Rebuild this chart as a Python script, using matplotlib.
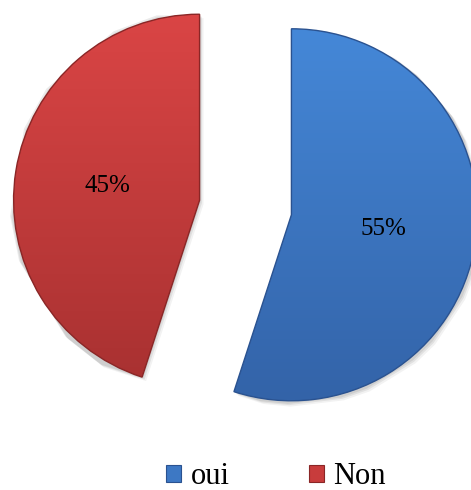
import numpy as np
import matplotlib.pyplot as plt
from matplotlib.colors import LinearSegmentedColormap

labels = ['oui', 'Non']
shares = [55, 45]
tops = ['#4588d8', '#da4545']
bottoms = ['#3363a8', '#a83131']
edges = ['#2a5290', '#8a2626']

plt.rcParams['font.family'] = ['Liberation Serif', 'DejaVu Serif']

fig = plt.figure(figsize=(4.71, 4.90), dpi=100)
ax = fig.add_axes([0, 0, 1, 1])

cx, cy, r = 245.5, 282.5, 186
# pie takes explode in data units, so scale by radius
wedges, texts, pcts = ax.pie(
    shares, explode=[0.25 * r, 0.25 * r], center=(cx, cy), radius=r,
    startangle=90, counterclock=False, colors=tops,
    autopct='%1.0f%%', pctdistance=0.5,
    textprops=dict(fontsize=18, color='black'),
    wedgeprops=dict(edgecolor='none'))

# soft drop shadow under each slice
for w in wedges:
    for k, a in ((4, 0.05), (2.5, 0.07), (1.2, 0.08)):
        sh = plt.Polygon(w.get_path().vertices + np.array([k, -k]),
                         closed=True, fc='black', ec='none', alpha=a, zorder=0)
        ax.add_patch(sh)

# vertical gradient fill clipped to each wedge
for w, top, bot, ec in zip(wedges, tops, bottoms, edges):
    cmap = LinearSegmentedColormap.from_list('g', [bot, top])
    grad = np.linspace(0, 1, 256).reshape(-1, 1)
    x0, y0 = w.center
    im = ax.imshow(grad, cmap=cmap, origin='lower', aspect='auto',
                   extent=(x0 - r, x0 + r, y0 - r, y0 + r), zorder=1)
    im.set_clip_path(w)
    w.set_zorder(2)
    w.set_facecolor('none')
    w.set_edgecolor(ec)
    w.set_linewidth(1.0)

for t in pcts:
    t.set_zorder(3)

ax.set_xlim(0, 471)
ax.set_ylim(0, 490)
ax.set_aspect('equal')
ax.axis('off')

handles = [plt.Rectangle((0, 0), 1, 1, fc=c, ec=e, lw=0.8)
           for c, e in zip(['#3d78c4', '#c83c3c'], edges)]
fig.legend(handles, labels, loc='center', bbox_to_anchor=(0.586, 0.027),
           ncol=2, frameon=False, fontsize=22, handlelength=0.5,
           handleheight=0.5, handletextpad=0.3, columnspacing=2.6,
           borderpad=0.1)

fig.savefig('out.png', dpi=100)
